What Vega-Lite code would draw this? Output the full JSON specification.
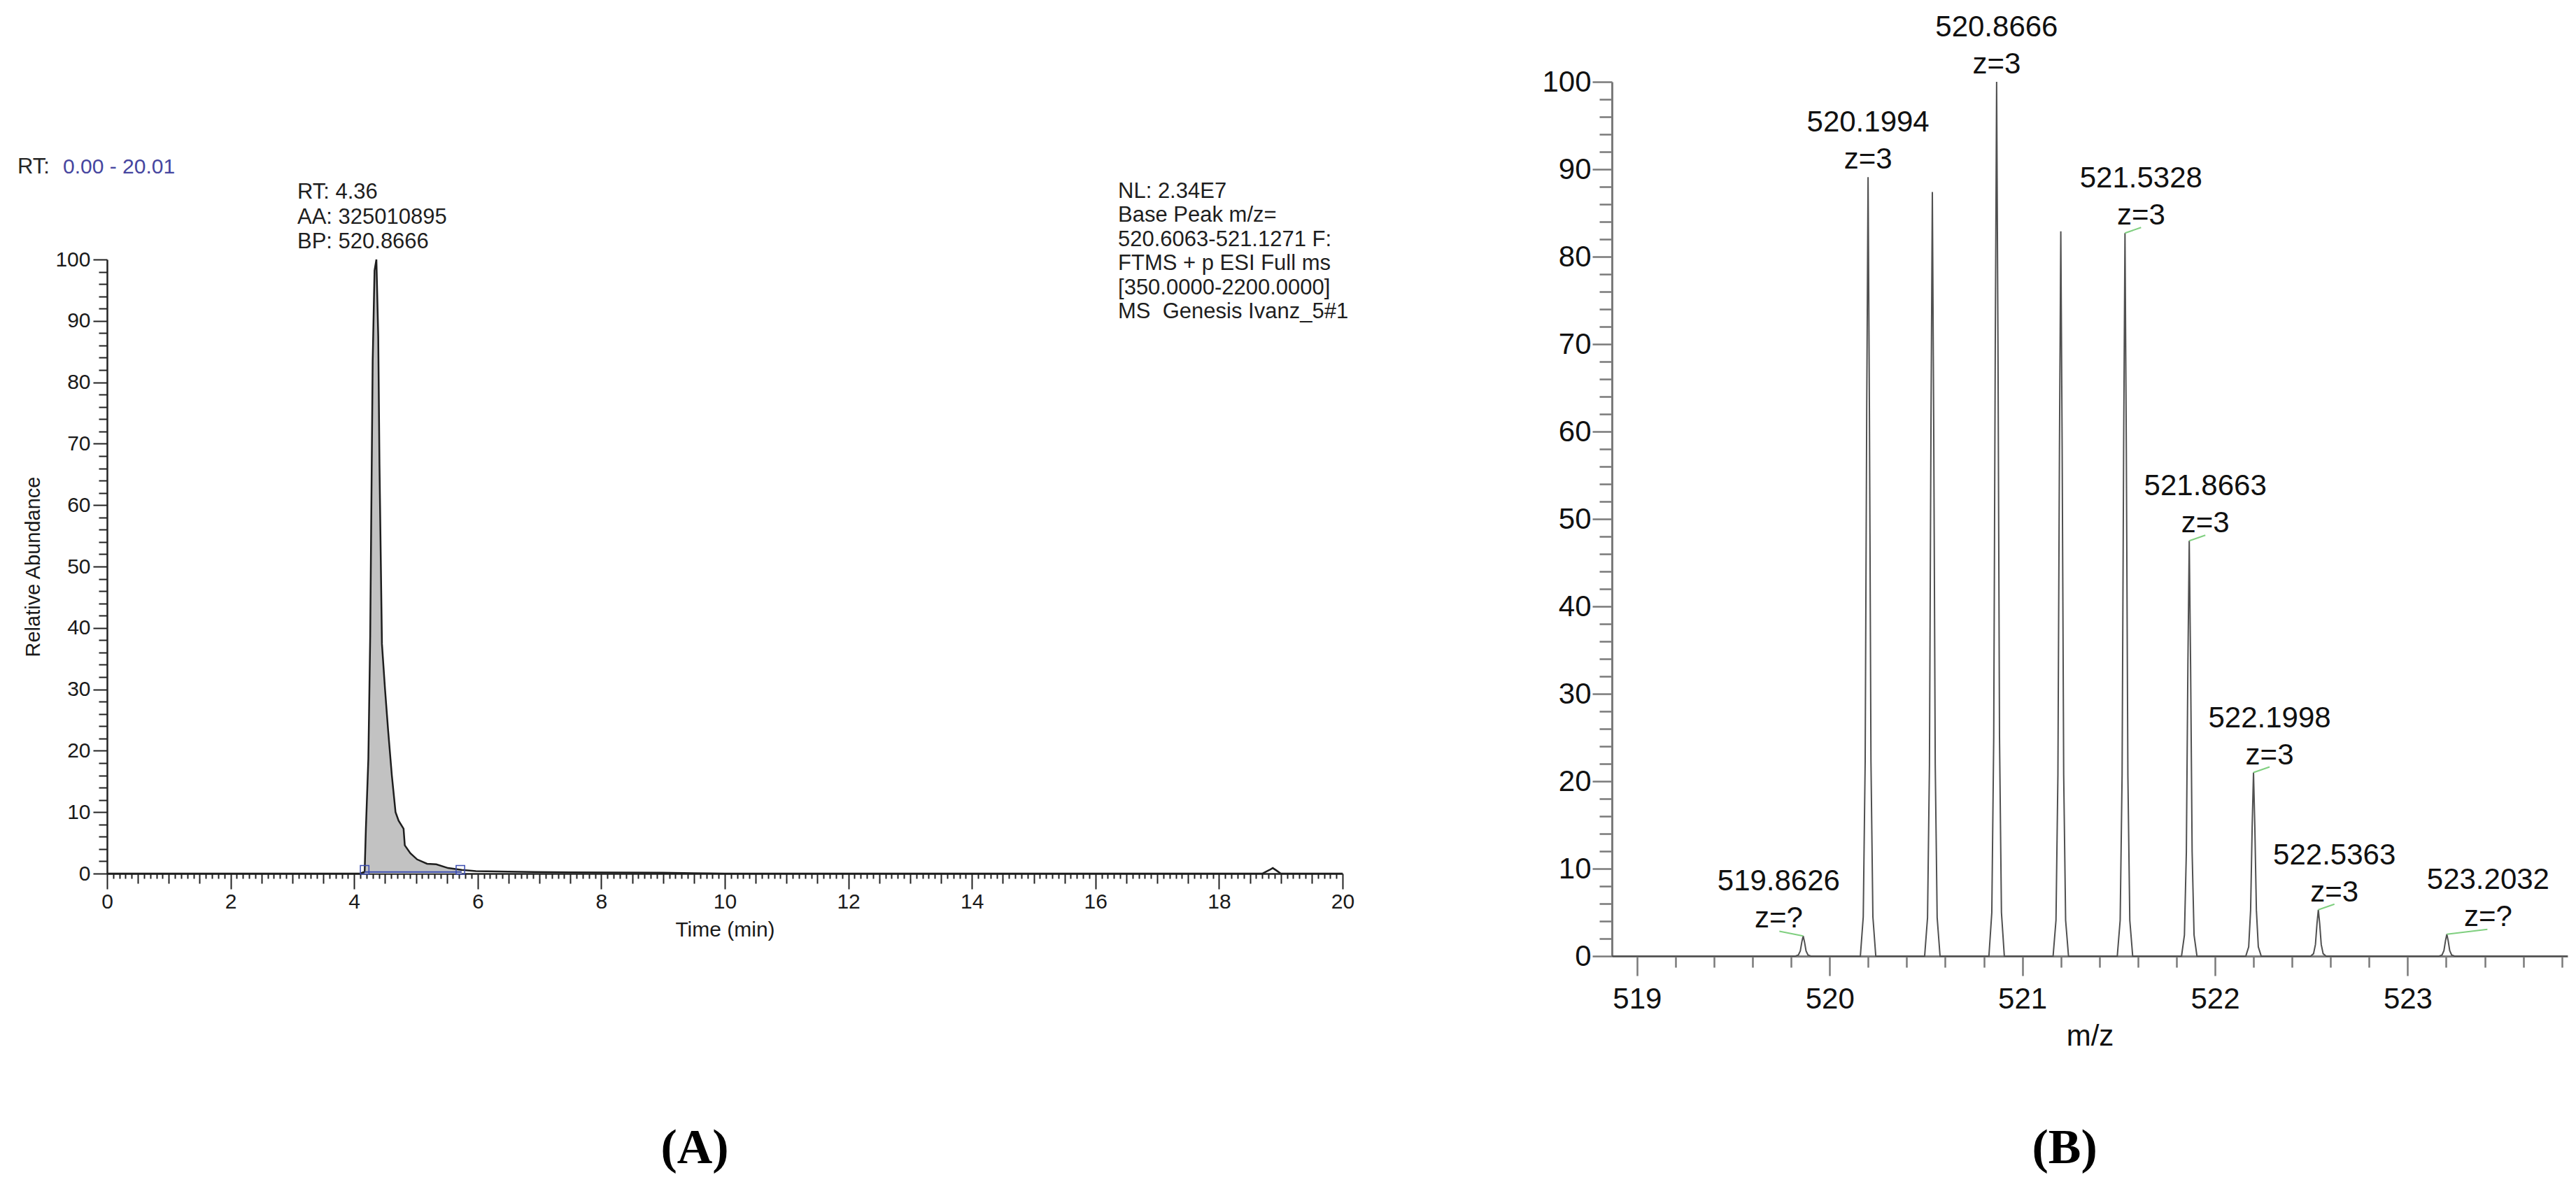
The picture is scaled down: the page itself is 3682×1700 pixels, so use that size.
{
  "$schema": "https://vega.github.io/schema/vega-lite/v6.json",
  "width": 3682,
  "height": 1700,
  "autosize": {"type": "none"},
  "padding": 0,
  "background": "white",
  "config": {
    "view": {"stroke": null},
    "axis": {"grid": false, "labelFont": "Liberation Sans", "titleFont": "Liberation Sans", "titleFontWeight": "normal"},
    "text": {"font": "Liberation Sans"}
  },
  "datasets": {
    "chrom": [
      {"t":0,"ab":0},{"t":4.1,"ab":0},{"t":4.17,"ab":0.3},{"t":4.19,"ab":7.3},{"t":4.23,"ab":18.7},{"t":4.26,"ab":38.7},{"t":4.28,"ab":61.4},{"t":4.3,"ab":83.5},{"t":4.33,"ab":98.2},{"t":4.36,"ab":100},{"t":4.39,"ab":87.5},{"t":4.41,"ab":66.7},{"t":4.45,"ab":37.4},{"t":4.5,"ab":30},{"t":4.55,"ab":23.3},{"t":4.61,"ab":16},{"t":4.67,"ab":10},{"t":4.72,"ab":8.6},{"t":4.8,"ab":7.3},{"t":4.82,"ab":4.6},{"t":4.91,"ab":3.3},{"t":5.02,"ab":2.3},{"t":5.18,"ab":1.6},{"t":5.33,"ab":1.5},{"t":5.52,"ab":0.9},{"t":5.74,"ab":0.6},{"t":5.97,"ab":0.4},{"t":6.5,"ab":0.3},{"t":7.5,"ab":0.2},{"t":9,"ab":0.15},{"t":9.5,"ab":0.05},{"t":10,"ab":0},{"t":18.7,"ab":0},{"t":18.82,"ab":0.6},{"t":18.87,"ab":0.9},{"t":18.93,"ab":0.5},{"t":19,"ab":0},{"t":20,"ab":0}
    ],
    "spec": [
      {"mz":518.87,"ab":0},
      {"mz":519.8226,"ab":0},{"mz":519.8376,"ab":0.12},{"mz":519.8476,"ab":0.58},{"mz":519.8556,"ab":1.61},{"mz":519.8626,"ab":2.3},{"mz":519.8696,"ab":1.61},{"mz":519.8776,"ab":0.58},{"mz":519.8876,"ab":0.12},{"mz":519.9026,"ab":0},
      {"mz":520.1594,"ab":0},{"mz":520.1744,"ab":4.5},{"mz":520.1844,"ab":22.3},{"mz":520.1924,"ab":62.4},{"mz":520.1994,"ab":89.1},{"mz":520.2064,"ab":62.4},{"mz":520.2144,"ab":22.3},{"mz":520.2244,"ab":4.5},{"mz":520.2394,"ab":0},
      {"mz":520.493,"ab":0},{"mz":520.508,"ab":4.4},{"mz":520.518,"ab":21.9},{"mz":520.526,"ab":61.2},{"mz":520.533,"ab":87.4},{"mz":520.54,"ab":61.2},{"mz":520.548,"ab":21.9},{"mz":520.558,"ab":4.4},{"mz":520.573,"ab":0},
      {"mz":520.8266,"ab":0},{"mz":520.8416,"ab":5},{"mz":520.8516,"ab":25},{"mz":520.8596,"ab":70},{"mz":520.8666,"ab":100},{"mz":520.8736,"ab":70},{"mz":520.8816,"ab":25},{"mz":520.8916,"ab":5},{"mz":520.9066,"ab":0},
      {"mz":521.1597,"ab":0},{"mz":521.1747,"ab":4.1},{"mz":521.1847,"ab":20.7},{"mz":521.1927,"ab":58},{"mz":521.1997,"ab":82.9},{"mz":521.2067,"ab":58},{"mz":521.2147,"ab":20.7},{"mz":521.2247,"ab":4.1},{"mz":521.2397,"ab":0},
      {"mz":521.4928,"ab":0},{"mz":521.5078,"ab":4.1},{"mz":521.5178,"ab":20.7},{"mz":521.5258,"ab":57.9},{"mz":521.5328,"ab":82.7},{"mz":521.5398,"ab":57.9},{"mz":521.5478,"ab":20.7},{"mz":521.5578,"ab":4.1},{"mz":521.5728,"ab":0},
      {"mz":521.8263,"ab":0},{"mz":521.8413,"ab":2.4},{"mz":521.8513,"ab":11.9},{"mz":521.8593,"ab":33.3},{"mz":521.8663,"ab":47.5},{"mz":521.8733,"ab":33.3},{"mz":521.8813,"ab":11.9},{"mz":521.8913,"ab":2.4},{"mz":521.9063,"ab":0},
      {"mz":522.1598,"ab":0},{"mz":522.1748,"ab":1.05},{"mz":522.1848,"ab":5.25},{"mz":522.1928,"ab":14.7},{"mz":522.1998,"ab":21},{"mz":522.2068,"ab":14.7},{"mz":522.2148,"ab":5.25},{"mz":522.2248,"ab":1.05},{"mz":522.2398,"ab":0},
      {"mz":522.4963,"ab":0},{"mz":522.5113,"ab":0.27},{"mz":522.5213,"ab":1.33},{"mz":522.5293,"ab":3.71},{"mz":522.5363,"ab":5.3},{"mz":522.5433,"ab":3.71},{"mz":522.5513,"ab":1.33},{"mz":522.5613,"ab":0.27},{"mz":522.5763,"ab":0},
      {"mz":523.1632,"ab":0},{"mz":523.1782,"ab":0.13},{"mz":523.1882,"ab":0.63},{"mz":523.1962,"ab":1.75},{"mz":523.2032,"ab":2.5},{"mz":523.2102,"ab":1.75},{"mz":523.2182,"ab":0.63},{"mz":523.2282,"ab":0.13},{"mz":523.2432,"ab":0},
      {"mz":523.83,"ab":0}
    ],
    "peaks": [
      {"mz":519.8626,"ab":2.3,"label":"519.8626","zl":"z=?"},
      {"mz":520.1994,"ab":89.1,"label":"520.1994","zl":"z=3"},
      {"mz":520.8666,"ab":100,"label":"520.8666","zl":"z=3"},
      {"mz":521.5328,"ab":82.7,"label":"521.5328","zl":"z=3"},
      {"mz":521.8663,"ab":47.5,"label":"521.8663","zl":"z=3"},
      {"mz":522.1998,"ab":21,"label":"522.1998","zl":"z=3"},
      {"mz":522.5363,"ab":5.3,"label":"522.5363","zl":"z=3"},
      {"mz":523.2032,"ab":2.5,"label":"523.2032","zl":"z=?"}
    ]
  },
  "layer": [
    {
      "layer": [
        {
          "data": {"name": "chrom"},
          "transform": [{"filter": "datum.t >= 4.17 && datum.t <= 5.74"}],
          "mark": {"type": "area", "color": "#c2c2c2"},
          "encoding": {
            "x": {
              "field": "t", "type": "quantitative",
              "scale": {"domain": [0, 20], "range": [153, 1919], "nice": false, "zero": false},
              "axis": {
                "title": "Time (min)", "orient": "bottom", "offset": -451,
                "tickCount": 200,
                "labelExpr": "abs(datum.value/2 - round(datum.value/2)) < 0.001 ? format(datum.value, 'd') : ''",
                "tickSize": {"condition": [{"test": "abs(datum.value/2 - round(datum.value/2)) < 0.001", "value": 22}, {"test": "abs(datum.value*2 - round(datum.value*2)) < 0.001", "value": 14}], "value": 7},
                "tickColor": "#222222", "tickWidth": 2, "domainColor": "#222222", "domainWidth": 2.5,
                "labelFontSize": 30, "labelColor": "#1a1a1a", "labelPadding": 3,
                "labelFlush": false, "labelOverlap": false, "labelBound": false,
                "titleFontSize": 30, "titleColor": "#1a1a1a", "titlePadding": 10
              }
            },
            "y": {
              "field": "ab", "type": "quantitative",
              "scale": {"domain": [0, 100], "range": [1249, 371], "nice": false, "zero": false},
              "axis": {
                "title": "Relative Abundance", "orient": "left", "offset": -153,
                "tickCount": 50,
                "labelExpr": "datum.value % 10 === 0 ? format(datum.value, 'd') : ''",
                "tickSize": {"condition": {"test": "datum.value % 10 === 0", "value": 20}, "value": 12},
                "tickColor": "#222222", "tickWidth": 2, "domainColor": "#222222", "domainWidth": 2.5,
                "labelFontSize": 30, "labelColor": "#1a1a1a", "labelPadding": 4,
                "labelOverlap": false, "labelBound": false, "labelFlush": false,
                "titleFontSize": 29, "titleColor": "#1a1a1a", "titlePadding": 16
              }
            }
          }
        },
        {
          "data": {"name": "chrom"},
          "mark": {"type": "line", "color": "#1e1e1e", "strokeWidth": 2.5},
          "encoding": {
            "x": {"field": "t", "type": "quantitative"},
            "y": {"field": "ab", "type": "quantitative"}
          }
        },
        {
          "data": {"values": [{}]},
          "mark": {"type": "rule", "color": "#3a4bb0", "strokeWidth": 2},
          "encoding": {
            "x": {"datum": 4.17, "type": "quantitative"},
            "x2": {"datum": 5.74},
            "y": {"datum": 0.25, "type": "quantitative"}
          }
        },
        {
          "data": {"values": [{"t": 4.17, "ab": 0.6}, {"t": 5.72, "ab": 0.6}]},
          "mark": {"type": "point", "shape": "square", "filled": false, "stroke": "#3a4bb0", "strokeWidth": 1.5, "size": 150, "opacity": 1},
          "encoding": {
            "x": {"field": "t", "type": "quantitative"},
            "y": {"field": "ab", "type": "quantitative"}
          }
        },
        {
          "data": {"values": [{}]},
          "mark": {"type": "text", "align": "left", "baseline": "middle", "fontSize": 31, "color": "#262626"},
          "encoding": {
            "x": {"datum": -1.45, "type": "quantitative"},
            "y": {"datum": 115.03, "type": "quantitative"},
            "text": {"value": "RT:"}
          }
        },
        {
          "data": {"values": [{}]},
          "mark": {"type": "text", "align": "left", "baseline": "middle", "fontSize": 30, "color": "#4646a0", "dx": 65},
          "encoding": {
            "x": {"datum": -1.45, "type": "quantitative"},
            "y": {"datum": 115.03, "type": "quantitative"},
            "text": {"value": "0.00 - 20.01"}
          }
        },
        {
          "data": {"values": [{}]},
          "mark": {"type": "text", "align": "left", "baseline": "middle", "fontSize": 31, "color": "#1e1e1e", "lineHeight": 35.5},
          "encoding": {
            "x": {"datum": 3.08, "type": "quantitative"},
            "y": {"datum": 110.93, "type": "quantitative"},
            "text": {"value": ["RT: 4.36", "AA: 325010895", "BP: 520.8666"]}
          }
        },
        {
          "data": {"values": [{}]},
          "mark": {"type": "text", "align": "left", "baseline": "middle", "fontSize": 31, "color": "#1e1e1e", "lineHeight": 34.5},
          "encoding": {
            "x": {"datum": 16.365, "type": "quantitative"},
            "y": {"datum": 111.05, "type": "quantitative"},
            "text": {"value": ["NL: 2.34E7", "Base Peak m/z=", "520.6063-521.1271 F:", "FTMS + p ESI Full ms", "[350.0000-2200.0000]", "MS\u00a0\u00a0Genesis Ivanz_5#1"]}
          }
        },
        {
          "data": {"values": [{}]},
          "mark": {"type": "text", "align": "center", "baseline": "middle", "fontSize": 70, "font": "Liberation Serif", "fontWeight": "bold", "color": "#000000"},
          "encoding": {
            "x": {"datum": 9.513, "type": "quantitative"},
            "y": {"datum": -44.76, "type": "quantitative"},
            "text": {"value": "(A)"}
          }
        }
      ]
    },
    {
      "layer": [
        {
          "data": {"name": "spec"},
          "mark": {"type": "line", "color": "#505050", "strokeWidth": 2},
          "encoding": {
            "x": {
              "field": "mz", "type": "quantitative",
              "scale": {"domain": [518.87, 523.83], "range": [2304, 3670], "nice": false, "zero": false},
              "axis": {
                "title": "m/z", "orient": "bottom", "offset": -333,
                "tickCount": 25,
                "labelExpr": "abs(datum.value - round(datum.value)) < 0.001 ? format(datum.value, 'd') : ''",
                "tickSize": {"condition": {"test": "abs(datum.value - round(datum.value)) < 0.001", "value": 28}, "value": 16},
                "tickColor": "#7a7a7a", "tickWidth": 2.5, "domainColor": "#7a7a7a", "domainWidth": 3,
                "labelFontSize": 42, "labelColor": "#111111", "labelPadding": 13,
                "labelFlush": false, "labelOverlap": false, "labelBound": false,
                "titleFontSize": 42, "titleColor": "#111111", "titlePadding": 12
              }
            },
            "y": {
              "field": "ab", "type": "quantitative",
              "scale": {"domain": [0, 100], "range": [1367, 117], "nice": false, "zero": false},
              "axis": {
                "title": null, "orient": "left", "offset": -2304,
                "tickCount": 50,
                "labelExpr": "datum.value % 10 === 0 ? format(datum.value, 'd') : ''",
                "tickSize": {"condition": {"test": "datum.value % 10 === 0", "value": 28}, "value": 18},
                "tickColor": "#7a7a7a", "tickWidth": 2.5, "domainColor": "#7a7a7a", "domainWidth": 3,
                "labelFontSize": 42, "labelColor": "#111111", "labelPadding": 2,
                "labelOverlap": false, "labelBound": false, "labelFlush": false
              }
            }
          }
        },
        {
          "data": {"name": "peaks"},
          "transform": [{"filter": {"field": "label", "oneOf": ["520.1994", "520.8666"]}}],
          "encoding": {
            "x": {"field": "mz", "type": "quantitative"},
            "y": {"field": "ab", "type": "quantitative"}
          },
          "layer": [
            {"mark": {"type": "text", "fontSize": 42, "align": "center", "baseline": "middle", "dy": -78, "color": "#111111"}, "encoding": {"text": {"field": "label"}}},
            {"mark": {"type": "text", "fontSize": 42, "align": "center", "baseline": "middle", "dy": -25, "color": "#111111"}, "encoding": {"text": {"field": "zl"}}}
          ]
        },
        {
          "data": {"name": "peaks"},
          "transform": [{"filter": {"field": "label", "oneOf": ["521.5328", "521.8663", "522.1998", "522.5363"]}}],
          "encoding": {
            "x": {"field": "mz", "type": "quantitative"},
            "y": {"field": "ab", "type": "quantitative"}
          },
          "layer": [
            {"mark": {"type": "text", "fontSize": 42, "align": "center", "baseline": "middle", "dy": -78, "dx": 23, "color": "#111111"}, "encoding": {"text": {"field": "label"}}},
            {"mark": {"type": "text", "fontSize": 42, "align": "center", "baseline": "middle", "dy": -25, "dx": 23, "color": "#111111"}, "encoding": {"text": {"field": "zl"}}},
            {"mark": {"type": "point", "shape": "M0,0L1,-0.35", "size": 2116, "filled": false, "stroke": "#7fcf7f", "strokeWidth": 2, "opacity": 1}}
          ]
        },
        {
          "data": {"name": "peaks"},
          "transform": [{"filter": {"field": "label", "oneOf": ["523.2032"]}}],
          "encoding": {
            "x": {"field": "mz", "type": "quantitative"},
            "y": {"field": "ab", "type": "quantitative"}
          },
          "layer": [
            {"mark": {"type": "text", "fontSize": 42, "align": "center", "baseline": "middle", "dy": -78, "dx": 59, "color": "#111111"}, "encoding": {"text": {"field": "label"}}},
            {"mark": {"type": "text", "fontSize": 42, "align": "center", "baseline": "middle", "dy": -25, "dx": 59, "color": "#111111"}, "encoding": {"text": {"field": "zl"}}},
            {"mark": {"type": "point", "shape": "M0,0L1,-0.12", "size": 13456, "filled": false, "stroke": "#7fcf7f", "strokeWidth": 2, "opacity": 1}}
          ]
        },
        {
          "data": {"name": "peaks"},
          "transform": [{"filter": {"field": "label", "oneOf": ["519.8626"]}}],
          "encoding": {
            "x": {"field": "mz", "type": "quantitative"},
            "y": {"field": "ab", "type": "quantitative"}
          },
          "layer": [
            {"mark": {"type": "text", "fontSize": 42, "align": "center", "baseline": "middle", "dy": -78, "dx": -35, "color": "#111111"}, "encoding": {"text": {"field": "label"}}},
            {"mark": {"type": "text", "fontSize": 42, "align": "center", "baseline": "middle", "dy": -25, "dx": -35, "color": "#111111"}, "encoding": {"text": {"field": "zl"}}},
            {"mark": {"type": "point", "shape": "M0,0L-1,-0.2", "size": 4624, "filled": false, "stroke": "#7fcf7f", "strokeWidth": 2, "opacity": 1}}
          ]
        },
        {
          "data": {"values": [{}]},
          "mark": {"type": "text", "align": "center", "baseline": "middle", "fontSize": 70, "font": "Liberation Serif", "fontWeight": "bold", "color": "#000000"},
          "encoding": {
            "x": {"datum": 521.22, "type": "quantitative"},
            "y": {"datum": -22.0, "type": "quantitative"},
            "text": {"value": "(B)"}
          }
        }
      ]
    }
  ],
  "resolve": {"scale": {"x": "independent", "y": "independent"}}
}
